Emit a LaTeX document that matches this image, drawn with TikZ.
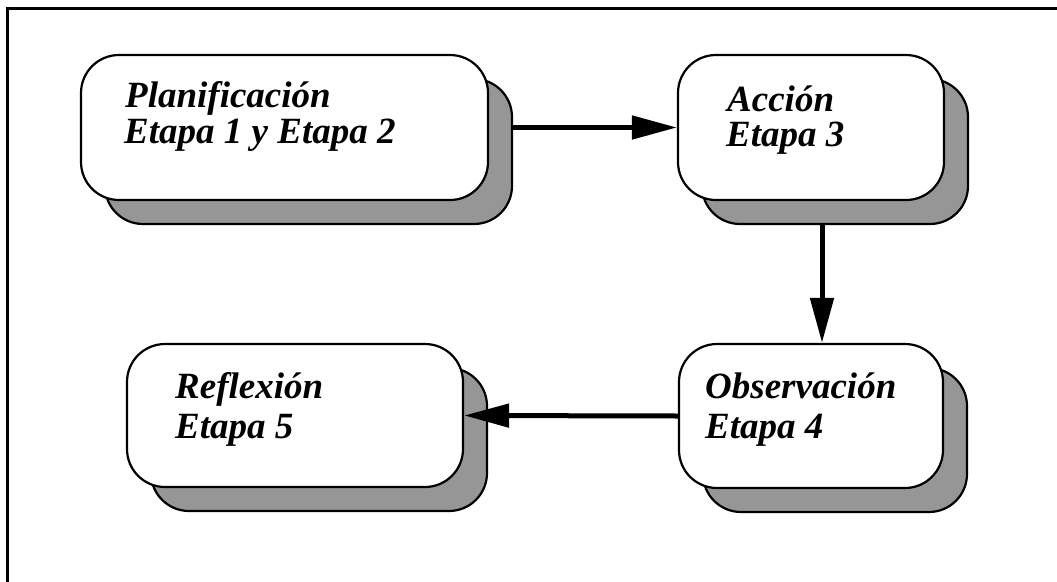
\documentclass[tikz,border=0pt]{standalone}
\usepackage{fontspec}
\setmainfont{Liberation Serif}
\usetikzlibrary{arrows.meta,calc}
\definecolor{shadowgray}{RGB}{150,150,150}
\begin{document}
\begin{tikzpicture}[x=1pt,y=-1pt,
  front/.style={draw=black,line width=2.2pt,fill=white,rounded corners=38pt,inner sep=0pt},
  shade/.style={draw=black,line width=2.2pt,fill=shadowgray,rounded corners=38pt,inner sep=0pt},
  lbl/.style={anchor=base west,inner sep=0pt,font=\fontsize{37}{40}\selectfont\bfseries\itshape},
  arr/.style={line width=5pt,-{Triangle[length=45pt,width=23pt]}}]
\useasboundingbox (0,0) rectangle (1057,581);
\begin{scope}
\clip (0,0) rectangle (1057,581);
\draw[line width=3pt] (7,8) rectangle (1120,640);
\end{scope}
% shadows
\path[shade] (105,79) rectangle (512,224) node[pos=.5] (s1) {};
\path[shade] (702,79) rectangle (968,224) node[pos=.5] (s2) {};
\path[shade] (703,368) rectangle (967,512) node[pos=.5] (s4) {};
\path[shade] (151,368) rectangle (487,511) node[pos=.5] (s5) {};
% front boxes
\node[front,minimum width=407pt,minimum height=145pt] (b1) at (284.5,127.5) {};
\node[front,minimum width=266pt,minimum height=145pt] (b2) at (811,127.5) {};
\node[front,minimum width=264pt,minimum height=144pt] (b4) at (811,416) {};
\node[front,minimum width=336pt,minimum height=143pt] (b5) at (295,415.5) {};
% shadow node names for connectors
\node[inner sep=0pt,minimum width=407pt,minimum height=145pt] (sh1) at (308.5,151.5) {};
\node[inner sep=0pt,minimum width=266pt,minimum height=145pt] (sh2) at (835,151.5) {};
% texts
\node[lbl] (t1a) at (125,107) {Planificación};
\node[lbl] (t1b) at (124,143) {Etapa 1 y Etapa 2};
\node[lbl] (t2a) at (727,111) {Acción};
\node[lbl] (t2b) at (726,146) {Etapa 3};
\node[lbl] (t4a) at (705,398) {Observación};
\node[lbl] (t4b) at (705,438) {Etapa 4};
\node[lbl] (t5a) at (175,398) {Reflexión};
\node[lbl] (t5b) at (175,438) {Etapa 5};
% connectors
\draw[arr] (sh1.east |- b1.west) -- (b2.west);
\draw[arr] ([xshift=11pt]b4.north |- sh2.south) -- ([xshift=11pt]b4.north);
\draw[arr] (b4.west) -- (b5.east);
\end{tikzpicture}
\end{document}
